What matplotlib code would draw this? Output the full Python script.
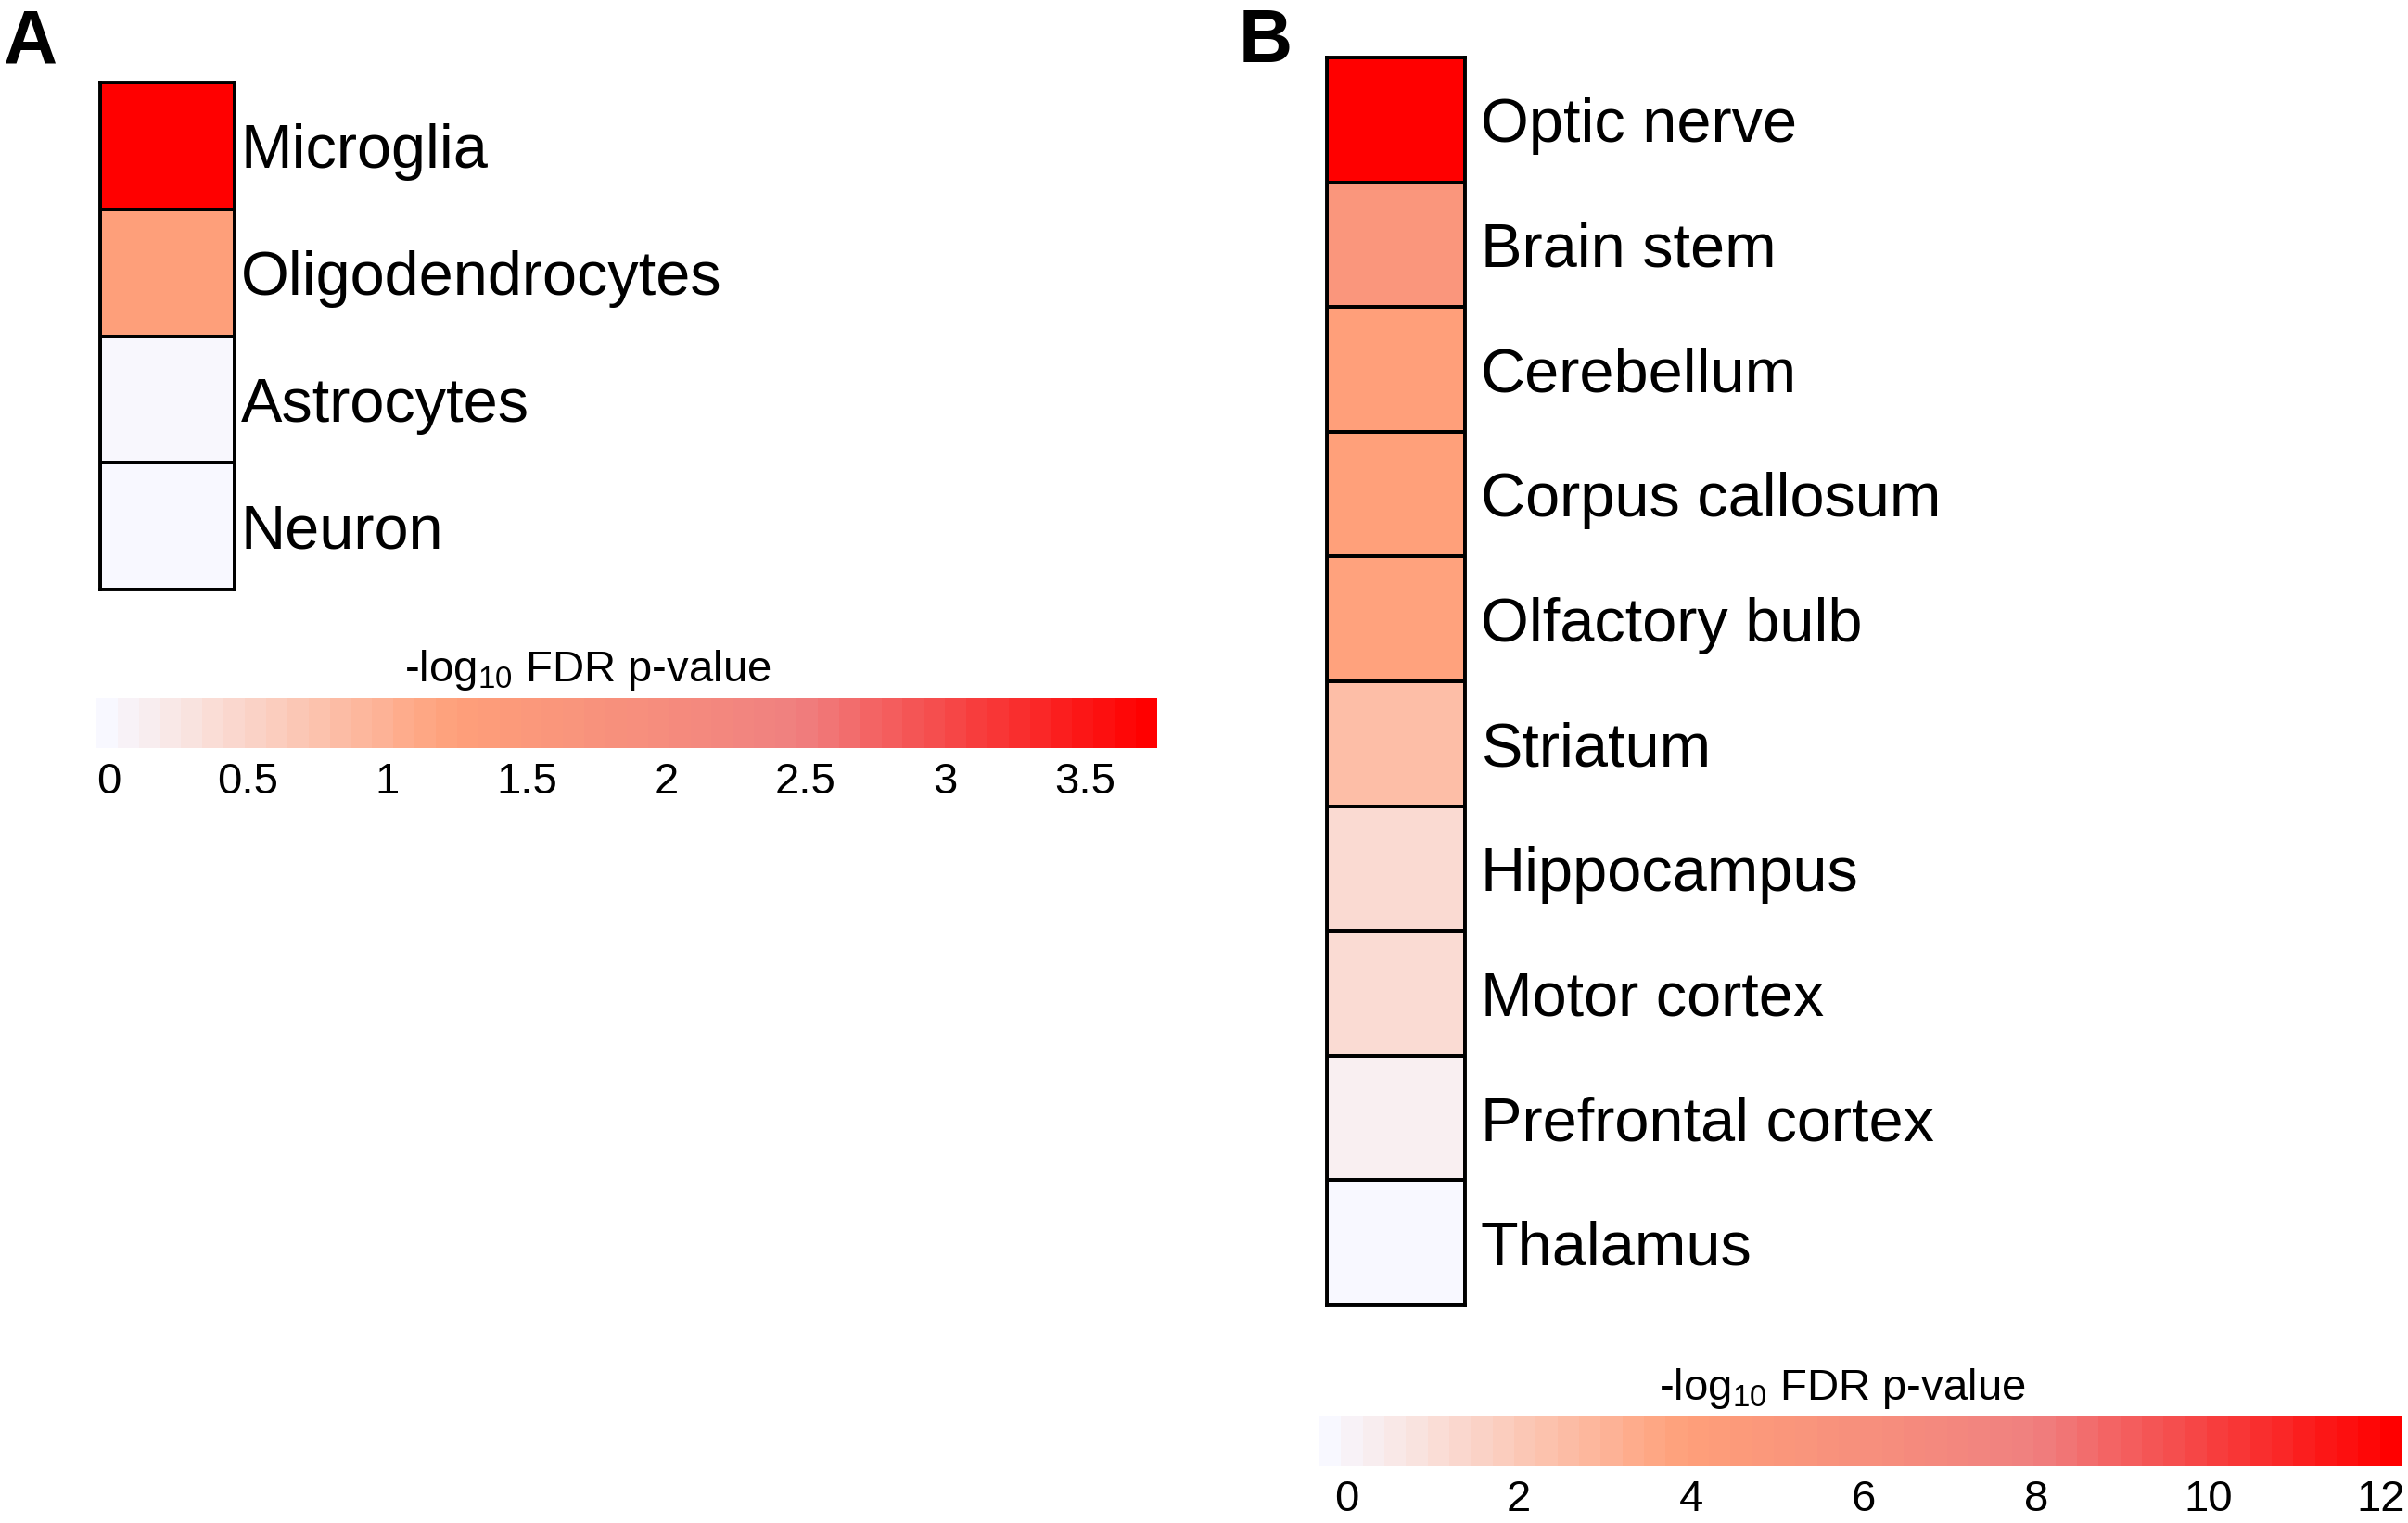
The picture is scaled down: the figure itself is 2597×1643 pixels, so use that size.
import numpy as np
import matplotlib
matplotlib.use("Agg")
import matplotlib.pyplot as plt
from matplotlib.colors import LinearSegmentedColormap, Normalize

plt.rcParams['font.family'] = ['Liberation Sans', 'DejaVu Sans']
plt.rcParams['mathtext.fontset'] = 'custom'
plt.rcParams['mathtext.rm'] = 'Liberation Sans'
plt.rcParams['mathtext.it'] = 'Liberation Sans'

# panel A: cell types
cell_types = ["Microglia", "Oligodendrocytes", "Astrocytes", "Neuron"]
cell_vals = [3.76, 1.3, 0.02, 0.0]
cell_ticks = [0, 0.5, 1, 1.5, 2, 2.5, 3, 3.5]
cell_range = (-0.043, 3.76)

# panel B: brain regions
regions = ["Optic nerve", "Brain stem", "Cerebellum", "Corpus callosum",
           "Olfactory bulb", "Striatum", "Hippocampus", "Motor cortex",
           "Prefrontal cortex", "Thalamus"]
region_vals = [12.24, 5.4, 4.2, 4.1, 4.0, 2.7, 1.4, 1.35, 0.45, 0.0]
region_ticks = [0, 2, 4, 6, 8, 10, 12]
region_range = (-0.31, 12.24)

cmap = LinearSegmentedColormap.from_list(
    "fdr", ["#F8F8FF", "#FFA07A", "#F08080", "#FF0000"])

W, H = 2597, 1643
fig = plt.figure(figsize=(W / 100, H / 100), dpi=100)


def px_axes(x0, y0, x1, y1):
    return fig.add_axes([x0 / W, 1 - y1 / H, (x1 - x0) / W, (y1 - y0) / H])


def heat_column(box, labels, vals, vmax, pad):
    ax = px_axes(*box)
    data = np.array(vals)[::-1].reshape(-1, 1)
    ax.pcolormesh(data, cmap=cmap, norm=Normalize(0, vmax),
                  edgecolors="black", linewidth=2.6)
    ax.set_xlim(0, 1)
    ax.set_ylim(0, len(vals))
    ax.set_xticks([])
    ax.yaxis.tick_right()
    ax.set_yticks(np.arange(len(vals)) + 0.5)
    ax.set_yticklabels(labels[::-1], fontsize=48)
    ax.tick_params(axis="y", length=0, pad=pad)
    for s in ax.spines.values():
        s.set_linewidth(2.8)
    return ax


def colour_bar(box, lims, ticks, title_x):
    ax = px_axes(*box)
    grad = np.linspace(0, lims[1], 50).reshape(1, -1)
    ax.imshow(grad, cmap=cmap, norm=Normalize(0, lims[1]), aspect="auto",
              extent=(lims[0], lims[1], 0, 1))
    ax.set_xlim(*lims)
    ax.set_yticks([])
    ax.set_xticks(ticks)
    ax.set_xticklabels([f"{t:g}" for t in ticks], fontsize=34)
    ax.tick_params(axis="x", length=0, pad=11)
    for s in ax.spines.values():
        s.set_visible(False)
    ax.text(title_x, 1.12, r"-log$_{10}$ FDR p-value", transform=ax.transAxes,
            ha="center", va="bottom", fontsize=34)
    return ax


heat_column((108, 89, 253, 636), cell_types, cell_vals, cell_range[1], 5)
colour_bar((104, 753, 1248, 807), cell_range, cell_ticks, 0.463)

heat_column((1431, 62, 1580, 1408), regions, region_vals, region_range[1], 12)
colour_bar((1423, 1528, 2590, 1581), region_range, region_ticks, 0.483)

fig.text(4 / W, 1 - 8 / H, "A", fontsize=58, fontweight="bold", va="top")
fig.text(1336 / W, 1 - 8 / H, "B", fontsize=58, fontweight="bold", va="top")

fig.savefig("out.png", dpi=100)
